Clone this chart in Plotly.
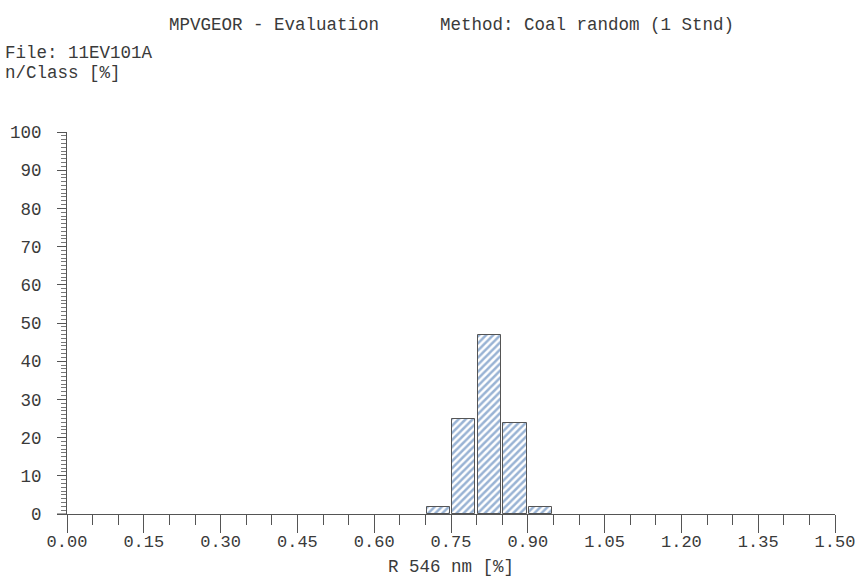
import plotly.graph_objects as go

# Data
class_centers = [0.725, 0.775, 0.825, 0.875, 0.925]
class_percent = [1.8, 24.8, 46.8, 23.8, 1.8]
x_tick_vals = [0.00, 0.15, 0.30, 0.45, 0.60, 0.75, 0.90, 1.05, 1.20, 1.35, 1.50]
y_tick_vals = [0, 10, 20, 30, 40, 50, 60, 70, 80, 90, 100]

FONT = "Liberation Mono, Courier New, monospace"
TXT = "#3a3a3a"
FS = 17.5

fig = go.Figure()
fig.add_trace(go.Bar(
    x=class_centers, y=class_percent, width=0.045,
    marker=dict(
        color="white",
        line=dict(color="#555555", width=1),
        pattern=dict(shape="/", fgcolor="#3468aa", bgcolor="white", size=5, solidity=0.5),
    ),
    showlegend=False,
))

W, H = 855, 577
L, R, T, B = 67, 20, 132, 63
pw, ph = W - L - R, H - T - B

def px(x):
    return (x - L) / pw

def py(y):
    return (H - B - y) / ph

fig.update_layout(
    width=W, height=H,
    margin=dict(l=L, r=R, t=T, b=B, pad=0, autoexpand=False),
    paper_bgcolor="white", plot_bgcolor="white",
    font=dict(family=FONT, size=FS, color=TXT),
    bargap=0,
    xaxis=dict(
        range=[0, 1.5], tickvals=x_tick_vals, tickformat=".2f",
        automargin=False,
        showgrid=False, zeroline=False,
        showline=True, linecolor="#555555", linewidth=1,
        ticks="outside", ticklen=18, tickwidth=1, tickcolor="#555555",
        minor=dict(dtick=0.05, ticks="outside", ticklen=10, tickcolor="#555555", tickwidth=1, showgrid=False),
        ticklabelstandoff=-6,
        ticklabeloverflow="allow",
        tickfont=dict(family=FONT, size=17, color=TXT),
    ),
    yaxis=dict(
        range=[0, 100], tickvals=y_tick_vals,
        automargin=False,
        showgrid=False, zeroline=False,
        showline=True, linecolor="#555555", linewidth=1,
        ticks="outside", ticklen=9, tickwidth=1, tickcolor="#555555",
        minor=dict(dtick=1, ticks="outside", ticklen=5, tickcolor="#777777", tickwidth=1, showgrid=False),
        ticklabelstandoff=12,
        tickfont=dict(family=FONT, size=FS, color=TXT),
    ),
)

# extend x-axis line a bit left of y-axis
fig.add_shape(type="line", xref="paper", yref="paper", x0=px(57), x1=0, y0=0, y1=0,
              line=dict(color="#555555", width=1))

def note(text, x, y, anchor="left"):
    fig.add_annotation(text=text, xref="paper", yref="paper", x=px(x), y=py(y),
                       xanchor=anchor, yanchor="middle", showarrow=False,
                       font=dict(family=FONT, size=FS, color=TXT))

note("MPVGEOR - Evaluation", 167, 25)
note("Method: Coal random (1 Stnd)", 438, 25)
note("File: 11EV101A", 3, 53)
note("n/Class [%]", 3, 73)
note("R 546 nm [%]", 451, 567, anchor="center")

fig.write_html("out.html", config={"displayModeBar": False},
               post_script="document.body.style.margin='0';")
